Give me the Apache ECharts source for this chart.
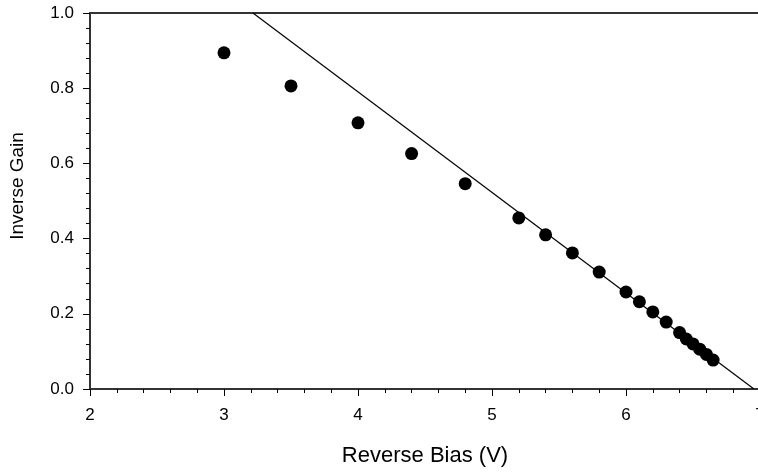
<!DOCTYPE html>
<html>
<head>
<meta charset="utf-8">
<script src="https://cdn.jsdelivr.net/npm/echarts@6/dist/echarts.min.js"></script>
<style>html,body{margin:0;padding:0;background:#fff;}#chart{width:758px;height:472px;}</style>
</head>
<body>
<div id="chart"></div>
<script>
const biasV = [3.0, 3.5, 4.0, 4.4, 4.8, 5.2, 5.4, 5.6, 5.8, 6.0, 6.1, 6.2, 6.3, 6.4, 6.45, 6.5, 6.55, 6.6, 6.65];
const inverseGain = [0.894, 0.806, 0.708, 0.626, 0.546, 0.455, 0.410, 0.362, 0.311, 0.258, 0.232, 0.205, 0.178, 0.150, 0.133, 0.120, 0.106, 0.092, 0.077];
const fitLineX = [3.216, 6.955];
const fitLineY = [1.0, 0.0];

const chart = echarts.init(document.getElementById('chart'));
const font = 'Liberation Sans, Arial, sans-serif';
chart.setOption({
  animation: false,
  grid: { left: 90, top: 13, width: 670, height: 376, containLabel: false, outerBoundsMode: 'none' },
  xAxis: [{
    type: 'value', min: 2, max: 7, interval: 1,
    name: 'Reverse Bias (V)', nameLocation: 'middle', nameGap: 56,
    nameTextStyle: { fontFamily: font, fontSize: 22, color: '#000' },
    axisLine: { show: true, onZero: false, lineStyle: { color: '#333', width: 2 } },
    axisTick: { show: true, inside: false, length: 7, lineStyle: { color: '#000', width: 1 } },
    minorTick: { show: true, splitNumber: 5, length: 4, lineStyle: { color: '#000', width: 1 } },
    axisLabel: { fontFamily: font, fontSize: 17, color: '#000', margin: 18 },
    splitLine: { show: false }
  }, {
    type: 'value', min: 2, max: 7, position: 'top',
    axisLine: { show: true, onZero: false, lineStyle: { color: '#333', width: 2 } },
    axisTick: { show: false }, axisLabel: { show: false }, splitLine: { show: false }
  }],
  yAxis: {
    type: 'value', min: 0, max: 1, interval: 0.2,
    name: 'Inverse Gain', nameLocation: 'middle', nameGap: 63, nameRotate: 90,
    nameTextStyle: { fontFamily: font, fontSize: 19, color: '#000', padding: [0, 0, 0, 30] },
    axisLine: { show: true, onZero: false, lineStyle: { color: '#333', width: 2 } },
    axisTick: { show: true, inside: false, length: 7, lineStyle: { color: '#000', width: 1 } },
    minorTick: { show: true, splitNumber: 5, length: 4, lineStyle: { color: '#000', width: 1 } },
    axisLabel: { fontFamily: font, fontSize: 17, color: '#000', margin: 16, formatter: v => v.toFixed(1) },
    splitLine: { show: false }
  },
  series: [{
    type: 'line',
    data: fitLineX.map((x, i) => [x, fitLineY[i]]),
    showSymbol: false, symbol: 'none',
    lineStyle: { color: '#000', width: 1.2 },
    z: 2
  }, {
    type: 'scatter',
    data: biasV.map((x, i) => [x, inverseGain[i]]),
    symbol: 'circle', symbolSize: 13,
    itemStyle: { color: '#000', opacity: 1 },
    z: 3
  }]
});
</script>
</body>
</html>
